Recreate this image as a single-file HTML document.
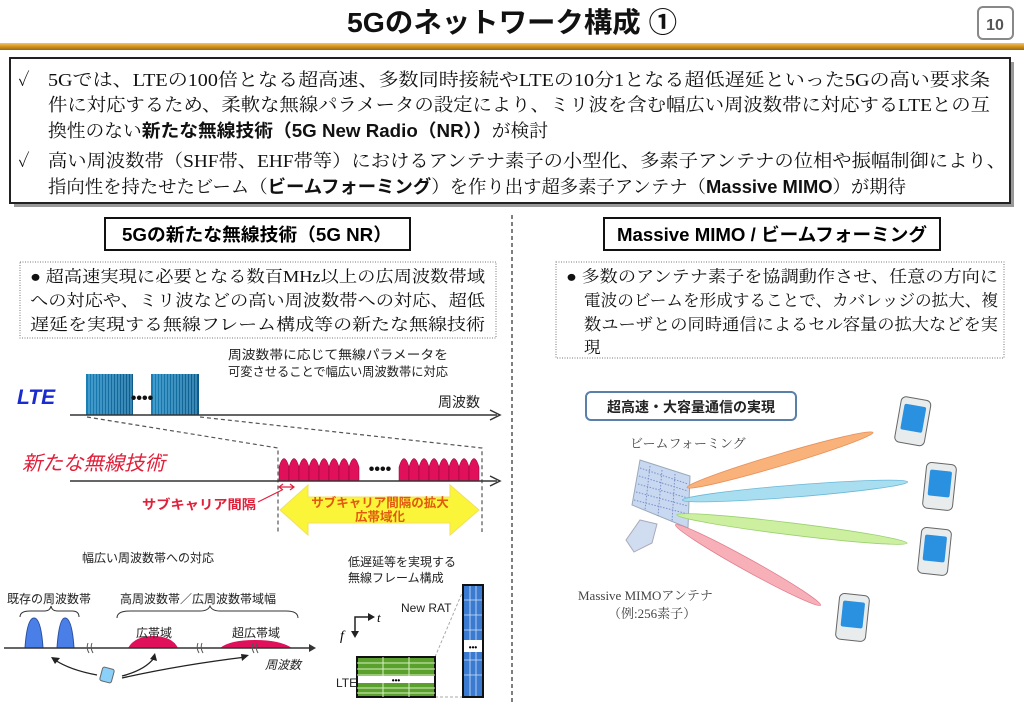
<!DOCTYPE html>
<html><head><meta charset="utf-8">
<style>
html,body{margin:0;padding:0;background:#fff;}
svg{display:block;}
.s{font-family:"Liberation Serif","Noto Serif CJK JP",serif;}
.g{font-family:"Liberation Sans","Noto Sans CJK JP",sans-serif;}
</style></head><body>
<svg width="1024" height="708" viewBox="0 0 1024 708" xmlns="http://www.w3.org/2000/svg">
<defs>
<linearGradient id="og" x1="0" y1="0" x2="0" y2="1"><stop offset="0" stop-color="#f3c46a"/><stop offset="0.5" stop-color="#d4931c"/><stop offset="1" stop-color="#9a6a1a"/></linearGradient>
<linearGradient id="bl" x1="0" y1="0" x2="1" y2="0"><stop offset="0" stop-color="#1a7fb5"/><stop offset="1" stop-color="#0d5a8a"/></linearGradient>
</defs>
<text x="512" y="32" text-anchor="middle" class="g" font-size="28" font-weight="bold" fill="#111" textLength="330" lengthAdjust="spacingAndGlyphs">5Gのネットワーク構成 ①</text>
<rect x="978" y="7" width="35" height="32" rx="5" fill="#fff" stroke="#888" stroke-width="2"/>
<text x="995" y="30" text-anchor="middle" class="g" font-size="16" font-weight="bold" fill="#555">10</text>
<rect x="0" y="43" width="1024" height="7" fill="url(#og)"/>
<rect x="14" y="62" width="1000" height="145" fill="#999"/>
<rect x="10" y="58" width="1000" height="145" fill="#fff" stroke="#222" stroke-width="2"/>
<g class="s" font-size="18" fill="#111">
<text x="18" y="86">✓</text>
<text x="48" y="86" textLength="942" lengthAdjust="spacingAndGlyphs">5Gでは、LTEの100倍となる超高速、多数同時接続やLTEの10分1となる超低遅延といった5Gの高い要求条</text>
<text x="48" y="111" textLength="942" lengthAdjust="spacingAndGlyphs">件に対応するため、柔軟な無線パラメータの設定により、ミリ波を含む幅広い周波数帯に対応するLTEとの互</text>
<text x="48" y="137" textLength="500" lengthAdjust="spacingAndGlyphs">換性のない<tspan class="g" font-weight="bold">新たな無線技術（5G New Radio（NR））</tspan>が検討</text>
<text x="18" y="167">✓</text>
<text x="48" y="167" textLength="958" lengthAdjust="spacingAndGlyphs">高い周波数帯（SHF帯、EHF帯等）におけるアンテナ素子の小型化、多素子アンテナの位相や振幅制御により、</text>
<text x="48" y="193" textLength="858" lengthAdjust="spacingAndGlyphs">指向性を持たせたビーム（<tspan class="g" font-weight="bold">ビームフォーミング</tspan>）を作り出す超多素子アンテナ（<tspan class="g" font-weight="bold">Massive MIMO</tspan>）が期待</text>
</g>
<rect x="105" y="218" width="305" height="32" fill="#fff" stroke="#111" stroke-width="2"/>
<text x="257" y="241" text-anchor="middle" class="g" font-size="18" font-weight="bold" textLength="270" lengthAdjust="spacingAndGlyphs">5Gの新たな無線技術（5G NR）</text>
<rect x="604" y="218" width="336" height="32" fill="#fff" stroke="#111" stroke-width="2"/>
<text x="772" y="241" text-anchor="middle" class="g" font-size="18" font-weight="bold" textLength="310" lengthAdjust="spacingAndGlyphs">Massive MIMO / ビームフォーミング</text>
<line x1="512" y1="215" x2="512" y2="702" stroke="#555" stroke-width="1.5" stroke-dasharray="4,3"/>
<rect x="20" y="262" width="476" height="76" fill="none" stroke="#777" stroke-dasharray="1,1.5"/>
<g class="s" font-size="16.5" fill="#111">
<text x="30" y="282" textLength="455" lengthAdjust="spacingAndGlyphs">● 超高速実現に必要となる数百MHz以上の広周波数帯域</text>
<text x="30" y="306" textLength="455" lengthAdjust="spacingAndGlyphs">への対応や、ミリ波などの高い周波数帯への対応、超低</text>
<text x="30" y="330" textLength="455" lengthAdjust="spacingAndGlyphs">遅延を実現する無線フレーム構成等の新たな無線技術</text>
</g>
<rect x="556" y="262" width="448" height="96" fill="none" stroke="#777" stroke-dasharray="1,1.5"/>
<g class="s" font-size="16.5" fill="#111">
<text x="566" y="282" textLength="432" lengthAdjust="spacingAndGlyphs">● 多数のアンテナ素子を協調動作させ、任意の方向に</text>
<text x="584" y="306" textLength="414" lengthAdjust="spacingAndGlyphs">電波のビームを形成することで、カバレッジの拡大、複</text>
<text x="584" y="330" textLength="414" lengthAdjust="spacingAndGlyphs">数ユーザとの同時通信によるセル容量の拡大などを実</text>
<text x="584" y="353">現</text>
</g>
<g class="g" font-size="12.5" fill="#222">
<text x="228" y="359" textLength="220" lengthAdjust="spacingAndGlyphs">周波数帯に応じて無線パラメータを</text>
<text x="228" y="376" textLength="220" lengthAdjust="spacingAndGlyphs">可変させることで幅広い周波数帯に対応</text>
</g>
<text x="17" y="404" class="g" font-size="21" font-style="italic" font-weight="bold" fill="#1a2bd0">LTE</text>
<rect x="86" y="374" width="47" height="41" fill="url(#bl)"/>
<rect x="151" y="374" width="48" height="41" fill="url(#bl)"/>
<g stroke="#7cc8ef" stroke-width="0.8">
<path d="M89 374V415M92 374V415M95 374V415M98 374V415M101 374V415M104 374V415M107 374V415M110 374V415M113 374V415M116 374V415M119 374V415M122 374V415M125 374V415M128 374V415M131 374V415"/>
<path d="M154 374V415M157 374V415M160 374V415M163 374V415M166 374V415M169 374V415M172 374V415M175 374V415M178 374V415M181 374V415M184 374V415M187 374V415M190 374V415M193 374V415M196 374V415"/>
</g>
<text x="142" y="403" text-anchor="middle" font-size="16" font-weight="bold" fill="#111" class="g">••••</text>
<line x1="70" y1="415" x2="497" y2="415" stroke="#333" stroke-width="1.5"/>
<path d="M490 410L500 415L490 420" fill="none" stroke="#333" stroke-width="1.5"/>
<text x="438" y="407" class="g" font-size="14" fill="#222">周波数</text>
<g stroke="#555" stroke-width="1.2" stroke-dasharray="4,3" fill="none">
<path d="M87 417L278 448V532"/><path d="M200 417L482 448V532"/>
</g>
<text x="22" y="470" class="g" font-size="20" font-style="italic" fill="#e0203a" textLength="143" lengthAdjust="spacingAndGlyphs">新たな無線技術</text>
<g fill="#e0105a" stroke="#900030" stroke-width="0.5">
<path id="bp" d="M279 481V467Q284 450 289 467V481Z"/>
<use href="#bp" x="10"/><use href="#bp" x="20"/><use href="#bp" x="30"/><use href="#bp" x="40"/><use href="#bp" x="50"/><use href="#bp" x="60"/><use href="#bp" x="70"/>
<use href="#bp" x="120"/><use href="#bp" x="130"/><use href="#bp" x="140"/><use href="#bp" x="150"/><use href="#bp" x="160"/><use href="#bp" x="170"/><use href="#bp" x="180"/><use href="#bp" x="190"/>
</g>
<text x="380" y="474" text-anchor="middle" font-size="16" font-weight="bold" fill="#111" class="g">••••</text>
<line x1="70" y1="481" x2="497" y2="481" stroke="#333" stroke-width="1.5"/>
<path d="M490 476L500 481L490 486" fill="none" stroke="#333" stroke-width="1.5"/>
<path d="M280 487H293M283 484L279 487L283 490M290 484L294 487L290 490" stroke="#e02040" stroke-width="1.2" fill="none"/>
<line x1="258" y1="502" x2="282" y2="490" stroke="#e02040" stroke-width="1.2"/>
<text x="142" y="509" class="g" font-size="13" font-weight="bold" fill="#e0203a" textLength="114" lengthAdjust="spacingAndGlyphs">サブキャリア間隔</text>
<path d="M280 510L308 485V497H450V485L479 510L450 535V523H308V535Z" fill="#fbf53a" stroke="#f0e060"/>
<text x="380" y="507" text-anchor="middle" class="g" font-size="12.5" font-weight="bold" fill="#e05a10">サブキャリア間隔の拡大</text>
<text x="380" y="521" text-anchor="middle" class="g" font-size="12.5" font-weight="bold" fill="#e05a10">広帯域化</text>
<text x="82" y="562" class="g" font-size="12" fill="#222">幅広い周波数帯への対応</text>
<text x="7" y="603" class="g" font-size="12" fill="#222">既存の周波数帯</text>
<text x="120" y="603" class="g" font-size="12" fill="#222">高周波数帯／広周波数帯域幅</text>
<path d="M20 617Q20 611 30 611H45Q50 611 51 606Q52 611 57 611H72Q79 611 79 617" fill="none" stroke="#333"/>
<path d="M117 618Q117 611 130 611H200Q208 611 210 606Q212 611 220 611H286Q298 611 298 618" fill="none" stroke="#333"/>
<path d="M25 648Q27 618 34 618Q41 618 43 648Z M57 648Q59 618 65 618Q72 618 74 648Z" fill="#4a7fe8" stroke="#2a50a0"/>
<path d="M128 648Q135 636 153 636Q172 636 178 648Z" fill="#e0105a"/>
<path d="M220 648Q230 640 255 640Q280 640 292 648Z" fill="#e0105a"/>
<line x1="4" y1="648" x2="310" y2="648" stroke="#333" stroke-width="1.5"/>
<path d="M309 644L316 648L309 652Z" fill="#333"/>
<g stroke="#555" fill="none"><path d="M88 643Q86 648 89 653M92 643Q90 648 93 653M198 643Q196 648 199 653M202 643Q200 648 203 653M253 643Q251 648 254 653M257 643Q255 648 258 653"/></g>
<text x="136" y="637" class="g" font-size="12" fill="#222">広帯域</text>
<text x="232" y="637" class="g" font-size="12" fill="#222">超広帯域</text>
<text x="265" y="669" class="g" font-size="12" font-style="italic" fill="#222">周波数</text>
<rect x="101" y="668" width="12" height="14" rx="2" fill="#8ad0f8" stroke="#666" transform="rotate(15 107 675)"/>
<g fill="none" stroke="#222" stroke-width="1.3">
<path d="M97 675Q70 670 55 660"/><path d="M122 676Q145 670 154 658"/><path d="M122 678Q180 665 246 657"/>
</g>
<path d="M51 657L60 658L55 664Z M155 653L157 661L150 659Z M249 655L242 661L241 654Z" fill="#222"/>
<text x="348" y="566" class="g" font-size="12" fill="#222">低遅延等を実現する</text>
<text x="348" y="582" class="g" font-size="12" fill="#222">無線フレーム構成</text>
<text x="401" y="612" class="g" font-size="12" fill="#222">New RAT</text>
<text x="340" y="640" class="s" font-size="14" font-style="italic">f</text>
<text x="377" y="622" class="s" font-size="13" font-style="italic">t</text>
<path d="M355 634V617H371" fill="none" stroke="#222" stroke-width="1.5"/>
<path d="M368 613L375 617L368 621Z M351 631L355 638L359 631Z" fill="#222"/>
<line x1="435" y1="657" x2="465" y2="586" stroke="#aaa" stroke-dasharray="3,2"/>
<line x1="435" y1="697" x2="465" y2="697" stroke="#aaa" stroke-dasharray="3,2"/>
<rect x="357" y="657" width="78" height="40" fill="#5aa02c" stroke="#111" stroke-width="2"/>
<g stroke="#d8f0c0" stroke-width="1"><path d="M357 663H435M357 669H435M357 675H435M357 688H435M357 693H435M383 657V697M409 657V697"/></g>
<rect x="358" y="676" width="76" height="7" fill="#fff"/>
<text x="396" y="683" text-anchor="middle" font-size="8" font-weight="bold" class="g">•••</text>
<text x="336" y="687" class="g" font-size="12" fill="#222">LTE</text>
<rect x="463" y="585" width="20" height="112" fill="#3a7ad0" stroke="#111" stroke-width="2"/>
<g stroke="#cfe2f8" stroke-width="0.8"><path d="M470 586V696M476 586V696M464 600H482M464 615H482M464 630H482M464 660H482M464 675H482"/></g>
<rect x="464" y="640" width="18" height="12" fill="#fff"/>
<text x="473" y="650" text-anchor="middle" font-size="8" font-weight="bold" class="g">•••</text>
<rect x="586" y="392" width="210" height="28" rx="5" fill="#fff" stroke="#5a7fa8" stroke-width="2"/>
<text x="691" y="412" text-anchor="middle" class="g" font-size="14" font-weight="bold" fill="#222">超高速・大容量通信の実現</text>
<text x="630" y="448" class="s" font-size="13" fill="#444">ビームフォーミング</text>
<path d="M640 460L690 476L688 528L632 505Z" fill="#c8d8f0" stroke="#9ab"/>
<g stroke="#7a90c8" stroke-width="1" stroke-dasharray="1.5,1.5"><path d="M640 468L688 484M639 476L688 491M638 484L688 498M636 492L688 506M634 500L688 514M650 466L645 510M662 470L658 516M675 474L672 522"/></g>
<path d="M640 520L657 524L652 543L634 552L626 540Z" fill="#d0dcf0" stroke="#aab"/>
<g stroke-width="0.8">
<ellipse cx="780" cy="460" rx="97" ry="6" fill="#f8b27a" stroke="#e8905a" transform="rotate(-16.5 780 460)"/>
<ellipse cx="795" cy="491" rx="113" ry="6" fill="#a8def0" stroke="#6ab8d8" transform="rotate(-4.6 795 491)"/>
<ellipse cx="792" cy="529" rx="116" ry="6" fill="#cdf0a0" stroke="#9ad070" transform="rotate(7 792 529)"/>
<ellipse cx="748" cy="565" rx="83" ry="6" fill="#f8b0b8" stroke="#e08090" transform="rotate(29 748 565)"/>
</g>
<g>
<g transform="translate(902 396) rotate(10)"><rect width="30" height="46" rx="5" fill="#e8ecec" stroke="#666"/><rect x="4" y="7" width="22" height="26" rx="2" fill="#2a90e0"/></g>
<g transform="translate(927 462) rotate(6)"><rect width="30" height="46" rx="5" fill="#e8ecec" stroke="#666"/><rect x="4" y="7" width="22" height="26" rx="2" fill="#2a90e0"/></g>
<g transform="translate(922 527) rotate(6)"><rect width="30" height="46" rx="5" fill="#e8ecec" stroke="#666"/><rect x="4" y="7" width="22" height="26" rx="2" fill="#2a90e0"/></g>
<g transform="translate(840 593) rotate(6)"><rect width="30" height="46" rx="5" fill="#e8ecec" stroke="#666"/><rect x="4" y="7" width="22" height="26" rx="2" fill="#2a90e0"/></g>
</g>
<text x="578" y="600" class="s" font-size="13" fill="#444">Massive MIMOアンテナ</text>
<text x="608" y="618" class="s" font-size="13" fill="#444">（例:256素子）</text>
</svg>
</body></html>
